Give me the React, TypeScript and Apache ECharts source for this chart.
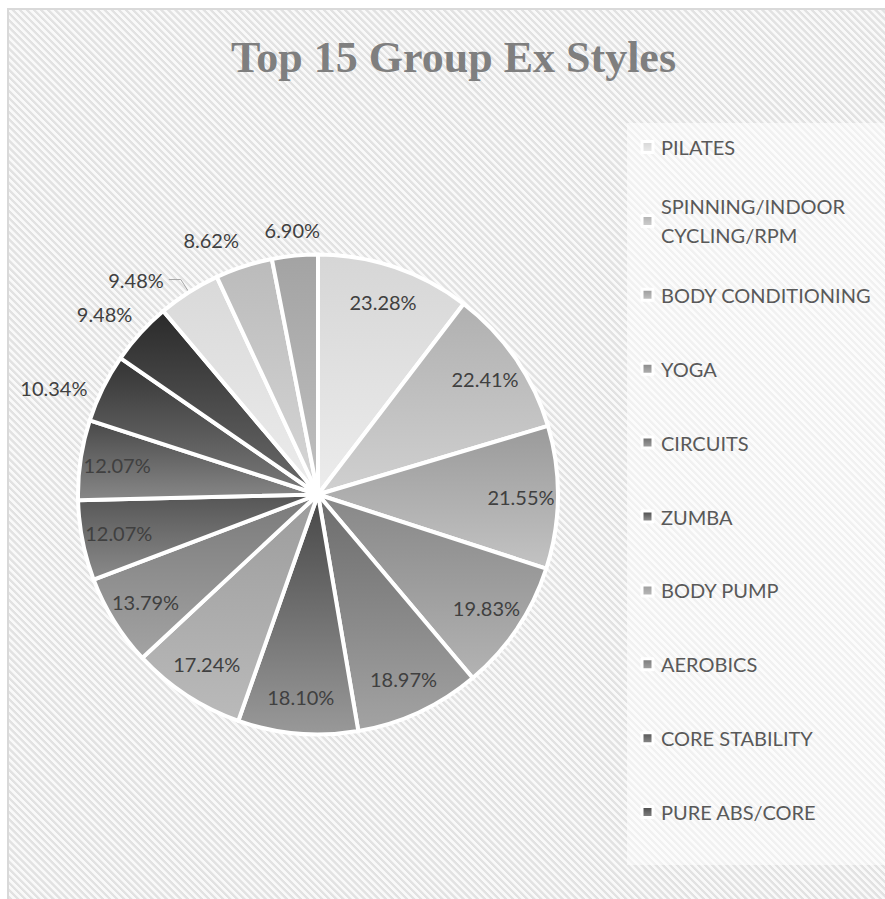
import React, { useEffect, useRef } from 'react';
import * as echarts from 'echarts';

const categories = [
  'PILATES',
  'SPINNING/INDOOR CYCLING/RPM',
  'BODY CONDITIONING',
  'YOGA',
  'CIRCUITS',
  'ZUMBA',
  'BODY PUMP',
  'AEROBICS',
  'CORE STABILITY',
  'PURE ABS/CORE',
  'BOXING',
  'KETTLEBELLS',
  'STEP',
  'BOOT CAMP',
  'TRX',
];
const values = [23.28, 22.41, 21.55, 19.83, 18.97, 18.1, 17.24, 13.79, 12.07, 12.07, 10.34, 9.48, 9.48, 8.62, 6.9];
const legendCount = 10;

const gradTop = ['#d6d6d6', '#b0b0b0', '#9a9a9a', '#878787', '#6c6c6c', '#474747', '#9c9c9c', '#7a7a7a', '#555555', '#484848', '#333333', '#2a2a2a', '#d9d9d9', '#bbbbbb', '#a3a3a3'];
const gradBottom = ['#ececec', '#d0d0d0', '#c3c3c3', '#b3b3b3', '#a3a3a3', '#999999', '#bababa', '#a3a3a3', '#8b8b8b', '#888888', '#7a7a7a', '#6b6b6b', '#ececec', '#d6d6d6', '#c0c0c0'];

// outside-label tuning: [length, length2]
const outsideLine: Record<number, [number, number]> = {
  10: [0, 49],
  11: [28, 15],
  12: [15, 12],
  13: [28, 24],
  14: [26, 0],
};
const centeredOutside = [10, 11, 13, 14];

export default function App() {
  const ref = useRef<HTMLDivElement>(null);
  useEffect(() => {
    const chart = echarts.init(ref.current!, null, { renderer: 'svg' });
    const grad = (i: number) =>
      new echarts.graphic.LinearGradient(0, 0, 0, 1, [
        { offset: 0, color: gradTop[i] },
        { offset: 1, color: gradBottom[i] },
      ]);
    const fmt = (p: any) => p.value.toFixed(2) + '%';
    const center = [309, 484.5];
    const labelFont = { fontFamily: 'Lato', fontSize: 20, color: '#404040' };

    const mainData = categories.map((name, i) => {
      const ol = outsideLine[i];
      return {
        name,
        value: values[i],
        itemStyle: { color: grad(i) },
        label: ol
          ? { show: true, position: 'outside', distanceToLabelLine: centeredOutside.includes(i) ? 0 : 5 }
          : { show: false },
        labelLine: ol ? { show: i === 12, length: ol[0], length2: ol[1] } : { show: false },
      };
    });

    const innerLabelData = categories.map((name, i) => ({
      name,
      value: values[i],
      label: { show: i < 10 },
    }));

    const legends = categories.slice(0, legendCount).map((name, i) => {
      const c = 137 + i * 73.9;
      const twoLine = i === 1;
      return {
        data: [name],
        orient: 'vertical',
        left: 631.5,
        top: twoLine ? c - 43.5 : c - 12,
        padding: 0,
        icon: 'rect',
        itemWidth: 11,
        itemHeight: 11,
        selectedMode: false,
        itemStyle: { borderColor: '#ffffff', borderWidth: 3 },
        formatter: twoLine ? () => 'SPINNING/INDOOR\nCYCLING/RPM' : undefined,
        textStyle: {
          fontFamily: 'Lato',
          fontSize: 20,
          color: '#595959',
          lineHeight: twoLine ? 29 : 24,
          padding: twoLine ? [29, 0, 0, 3] : [0, 0, 0, 3],
        },
      };
    });

    chart.setOption({
      animation: false,
      backgroundColor: 'transparent',
      title: {
        text: 'Top 15 Group Ex Styles',
        left: 'center',
        top: 20,
        textStyle: { fontFamily: 'Liberation Serif', fontWeight: 'bold', fontSize: 44, color: '#7f7f7f' },
      },
      graphic: [
        {
          type: 'rect',
          left: 618,
          top: 113,
          z: -1,
          silent: true,
          shape: { width: 300, height: 742 },
          style: { fill: 'rgba(255,255,255,0.5)' },
        },
      ],
      legend: legends,
      series: [
        {
          type: 'pie',
          center,
          radius: [0, 240],
          startAngle: 90,
          clockwise: true,
          avoidLabelOverlap: false,
          silent: true,
          emphasis: { disabled: true },
          itemStyle: { borderColor: '#ffffff', borderWidth: 4 },
          label: { ...labelFont, formatter: fmt },
          labelLine: { lineStyle: { color: '#a6a6a6', width: 1 } },
          labelLayout: (params: any) => (centeredOutside.includes(params.dataIndex) ? { align: 'center' } : {}),
          data: mainData,
        },
        {
          type: 'pie',
          center,
          radius: [160, 240],
          startAngle: 90,
          clockwise: true,
          avoidLabelOverlap: false,
          silent: true,
          emphasis: { disabled: true },
          itemStyle: { color: 'rgba(0,0,0,0)', borderWidth: 0 },
          label: { position: 'inside', ...labelFont, formatter: fmt },
          labelLine: { show: false },
          data: innerLabelData,
        },
      ],
    });
    return () => chart.dispose();
  }, []);

  return (
    <div
      style={{
        position: 'fixed',
        left: 7,
        top: 8,
        width: 891,
        height: 892,
        borderLeft: '2px solid #d9d9d9',
        borderTop: '2px solid #d9d9d9',
        background:
          'repeating-linear-gradient(45deg, #f9f9f9 0px, #f9f9f9 2px, #e2e2e2 2.6px, #e2e2e2 4.4px, #f9f9f9 5px)',
      }}
    >
      <div ref={ref} style={{ width: 889, height: 890 }} />
    </div>
  );
}
